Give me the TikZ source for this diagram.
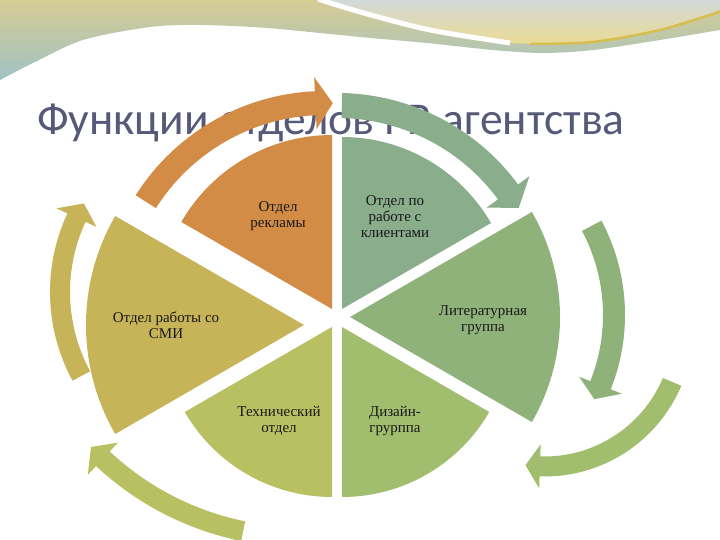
\documentclass[tikz,border=0pt]{standalone}
\usepackage{fontspec}
\setmainfont{Liberation Serif}
\newfontfamily\titlefont{Carlito}
\definecolor{bandtop}{RGB}{214,204,148}
\definecolor{bandbot}{RGB}{160,194,196}
\definecolor{rtop}{RGB}{210,217,216}
\definecolor{rbot}{RGB}{234,218,146}
\definecolor{goldc}{RGB}{214,190,80}
\definecolor{titlecol}{RGB}{86,90,120}
\definecolor{cA}{RGB}{210,140,70}
\definecolor{cB}{RGB}{138,173,140}
\definecolor{cC}{RGB}{142,178,122}
\definecolor{cD}{RGB}{160,190,110}
\definecolor{cE}{RGB}{184,192,98}
\definecolor{cF}{RGB}{200,180,88}
% circular arrow: #1 colour, #2 cx, #3 cy, #4 r, #5 half width, #6 tail angle, #7 base angle, #8 tip angle, #9 wing ext
\newcommand\carr[9]{%
  \fill[#1] ([shift={(#2,#3)}]#6:{#4+#5}) arc[start angle=#6,end angle=#7,radius={#4+#5}]
    -- ([shift={(#2,#3)}]#7:{#4+#5+#9}) -- ([shift={(#2,#3)}]#8:{#4})
    -- ([shift={(#2,#3)}]#7:{#4-#5-#9}) -- ([shift={(#2,#3)}]#7:{#4-#5})
    arc[start angle=#7,end angle=#6,radius={#4-#5}] -- cycle;}
\newcommand\pieseg[5]{% #1 colour, #2 apex x, #3 apex y, #4 radius, #5 start (end = start+60)
  \fill[#1] (#2,#3) -- ++(#5:#4) arc[start angle=#5,end angle={#5+60},radius=#4] -- cycle;}
\tikzset{lab/.style={font=\fontsize{15}{16}\selectfont, align=center, text=black!90}}
\begin{document}
\begin{tikzpicture}[x=1pt,y=1pt]
\useasboundingbox (0,0) rectangle (720,540);
\fill[white] (0,0) rectangle (720,540);
% background swoosh
\shade[top color=bandtop, bottom color=bandbot] (0,540) -- (720,540) -- plot[smooth] coordinates {(720,510) (660,500) (593,490) (543,487) (493,490) (427,497) (360,503) (267,512) (200,515) (150,513) (83,500) (33,477) (0,460)} -- cycle;
\shade[top color=rtop, bottom color=rbot] (320,540) -- (720,540) -- plot[smooth] coordinates {(720,528) (660,510) (593,498) (510,497) (430,510) (360,528) (320,540)} -- cycle;
\draw[white, line width=5] plot[smooth] coordinates {(318,541) (360,528) (430,510) (510,497)};
\draw[goldc, line width=2.5] plot[smooth] coordinates {(530,496) (593,498) (660,510) (722,529)};
% title
\node[font=\titlefont\fontsize{45.5}{50}\selectfont, text=titlecol, anchor=base west, inner sep=0] (title) at (37,405) {Функции отделов PR агентства};
% arrows
\carr{cA}{325}{225}{212}{12}{147.7}{92.6}{87.9}{14}
\carr{cB}{337}{222}{212.5}{12.5}{88.7}{36.4}{31.2}{14}
\carr{cC}{424}{225}{190}{11}{28}{-21.7}{-26.3}{12}
\carr{cD}{544.5}{212}{138.5}{10}{-22.9}{-91.9}{-97.9}{12}
\carr{cE}{301}{293}{290}{10}{258.5}{226.9}{223.6}{12}
\carr{cF}{236}{248}{176}{10}{208.5}{155}{149.8}{12}
% wedges
\pieseg{cA}{332}{231}{174}{90}
\pieseg{cB}{342}{231}{172}{30}
\pieseg{cC}{350}{223}{210}{-30}
\pieseg{cD}{342}{213}{170}{-90}
\pieseg{cE}{332}{213}{170}{-150}
\pieseg{cF}{304}{215}{218}{150}
% labels
\node[lab] (rekl) at (278,324) {Отдел\\рекламы};
\node[lab] (klient) at (395,323) {Отдел по\\работе с\\клиентами};
\node[lab] (lit) at (483,220) {Литературная\\группа};
\node[lab] (dizain) at (395,119) {Дизайн-\\грурппа};
\node[lab] (tech) at (279,119) {Технический\\отдел};
\node[lab] (smi) at (166,215) {Отдел работы со\\СМИ};
\end{tikzpicture}
\end{document}
